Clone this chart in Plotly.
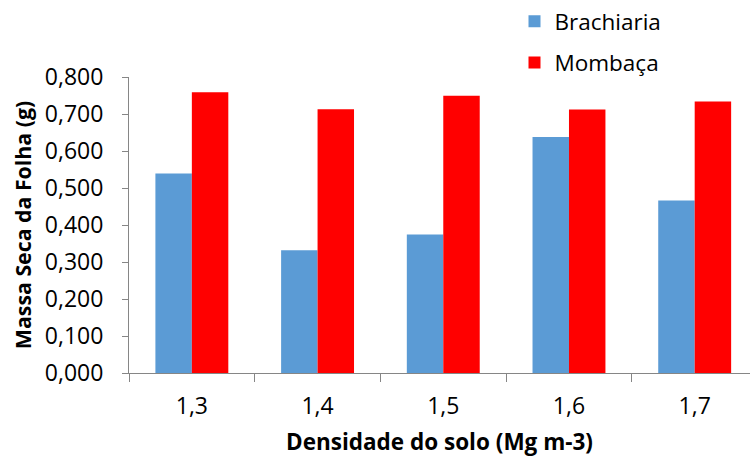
import plotly.graph_objects as go

# Soil density classes (Mg m-3) and leaf dry mass (g) per grass
densidade = ["1,3", "1,4", "1,5", "1,6", "1,7"]
brachiaria = [0.539, 0.332, 0.374, 0.638, 0.466]
mombaca = [0.759, 0.713, 0.749, 0.712, 0.734]
y_ticks = [0.0, 0.1, 0.2, 0.3, 0.4, 0.5, 0.6, 0.7, 0.8]

FONT = "Open Sans"
AXIS_GREY = "#868686"

fig = go.Figure()
fig.add_trace(go.Bar(
    x=densidade, y=brachiaria, name="Brachiaria",
    marker=dict(color="#5B9BD5", line=dict(width=0)),
    legendgroup="b",
))
fig.add_trace(go.Bar(
    x=densidade, y=mombaca, name="Mombaça",
    marker=dict(color="#FF0000", line=dict(width=0)),
    legendgroup="m",
))

fig.update_layout(
    width=750, height=465,
    margin=dict(l=129, r=0, t=77, b=92, pad=0, autoexpand=False),
    paper_bgcolor="white", plot_bgcolor="white",
    separators=",.",
    barmode="group", bargap=0.42, bargroupgap=0,
    font=dict(family=FONT, size=22, color="#000000"),
    showlegend=True,
    legend=dict(
        x=0.686, y=1.0, xref="container", yref="container",
        xanchor="left", yanchor="top",
        font=dict(family=FONT, size=22.5, color="#000000"),
        tracegroupgap=9, itemwidth=30,
        bgcolor="rgba(0,0,0,0)",
    ),
    xaxis=dict(
        type="category",
        range=[-0.5, 4.44],
        showline=True, linecolor=AXIS_GREY, linewidth=1,
        ticks="outside", tickson="boundaries", ticklen=8,
        tickcolor=AXIS_GREY, tickwidth=1,
        ticklabelstandoff=12,
        tickfont=dict(family=FONT, size=23),
        showgrid=False, zeroline=False,
        title=dict(
            text="<b>Densidade do solo (Mg m-3)</b>",
            font=dict(family=FONT, size=22.5),
            standoff=14,
        ),
    ),
    yaxis=dict(
        range=[0, 0.8],
        tickvals=y_ticks, tickformat=".3f",
        showline=True, linecolor=AXIS_GREY, linewidth=1,
        ticks="outside", ticklen=6, tickcolor=AXIS_GREY, tickwidth=1,
        ticklabelstandoff=14,
        tickfont=dict(family=FONT, size=23),
        showgrid=False, zeroline=False,
        title=dict(
            text="<b>Massa Seca da Folha (g)</b>",
            font=dict(family=FONT, size=21.3),
            standoff=7,
        ),
    ),
)

fig.write_html("out.html")
